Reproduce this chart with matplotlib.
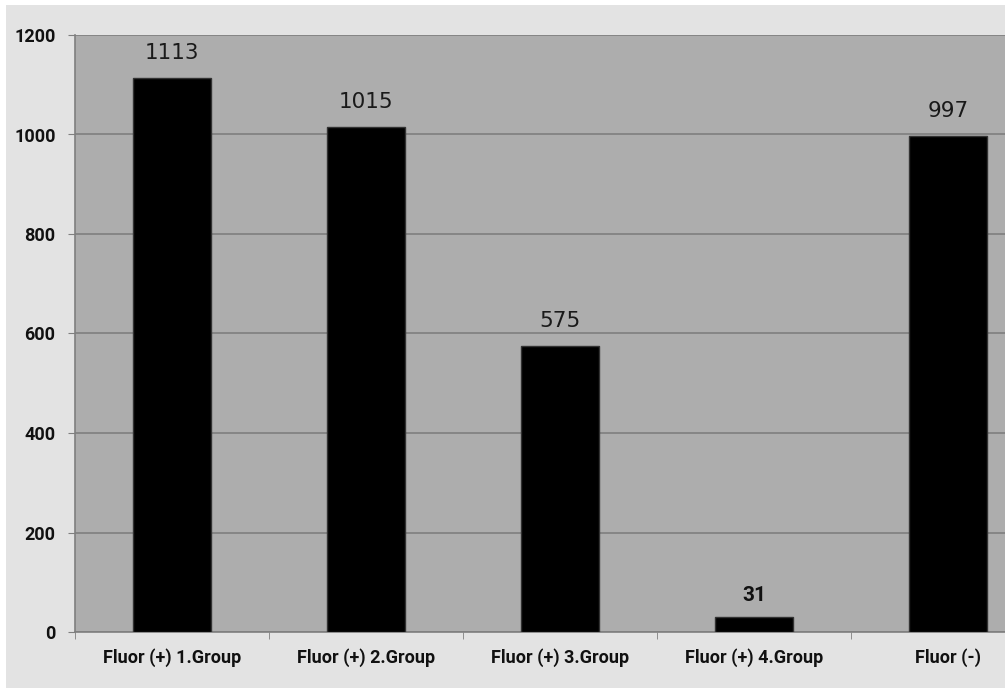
import matplotlib.pyplot as plt
from matplotlib.patches import Rectangle
import numpy as np

# Данные
categories = ['Fluor (+) 1.Group', 'Fluor (+) 2.Group', 'Fluor (+) 3.Group',
              'Fluor (+) 4.Group', 'Fluor (-)']
values = [1113, 1015, 575, 31, 997]
yticks = [0, 200, 400, 600, 800, 1000, 1200]

W, H = 1005, 689
fig = plt.figure(figsize=(W / 100, H / 100), dpi=100)
fig.patch.set_facecolor('white')

# Светло-серая подложка диаграммы
fig.patches.append(Rectangle((6 / W, 1 - 688 / H), (W - 6) / W, 683 / H,
                             transform=fig.transFigure, facecolor='#e3e3e3',
                             edgecolor='none', zorder=-10))

# Область построения (правая часть обрезана краем рисунка)
ax = fig.add_axes([75 / W, (H - 632) / H, 970 / W, 597 / H])
ax.set_facecolor('#adadad')

x = np.arange(len(categories))
ax.bar(x, values, width=0.4, color='black', edgecolor='#333333', linewidth=1, zorder=3)

ax.set_xlim(-0.5, len(categories) - 0.5)
ax.set_ylim(0, 1200)
ax.set_yticks(yticks)
ax.yaxis.grid(True, color='#7f7f7f', linewidth=1.2)
ax.set_axisbelow(True)

lab_font = dict(family='Roboto', weight='bold', size=13, color='#111111')
ax.set_yticklabels([str(t) for t in yticks], **lab_font)
ax.set_xticks(x)
ax.set_xticklabels(categories, **lab_font)
ax.tick_params(axis='x', length=0, pad=12)
ax.tick_params(axis='y', length=5, color='#7f7f7f', pad=9)

# Засечки между категориями
ax.set_xticks(np.arange(len(categories) + 1) - 0.5, minor=True)
ax.tick_params(axis='x', which='minor', length=5, color='#7f7f7f')

for side in ['top', 'right']:
    ax.spines[side].set_visible(False)
for side in ['left', 'bottom']:
    ax.spines[side].set_color('#7f7f7f')
    ax.spines[side].set_linewidth(1.2)

# Подписи значений
for xi, v in zip(x, values):
    if v < 100:
        ax.annotate(str(v), (xi, v), xytext=(0, 15), textcoords='offset points',
                    ha='center', va='center', fontsize=15, fontweight='bold',
                    family='Roboto', color='#111111')
    else:
        ax.annotate(str(v), (xi, v), xytext=(0, 18), textcoords='offset points',
                    ha='center', va='center', fontsize=15.5, color='#1a1a1a')

fig.savefig('out.png', dpi=100, facecolor=fig.get_facecolor())
